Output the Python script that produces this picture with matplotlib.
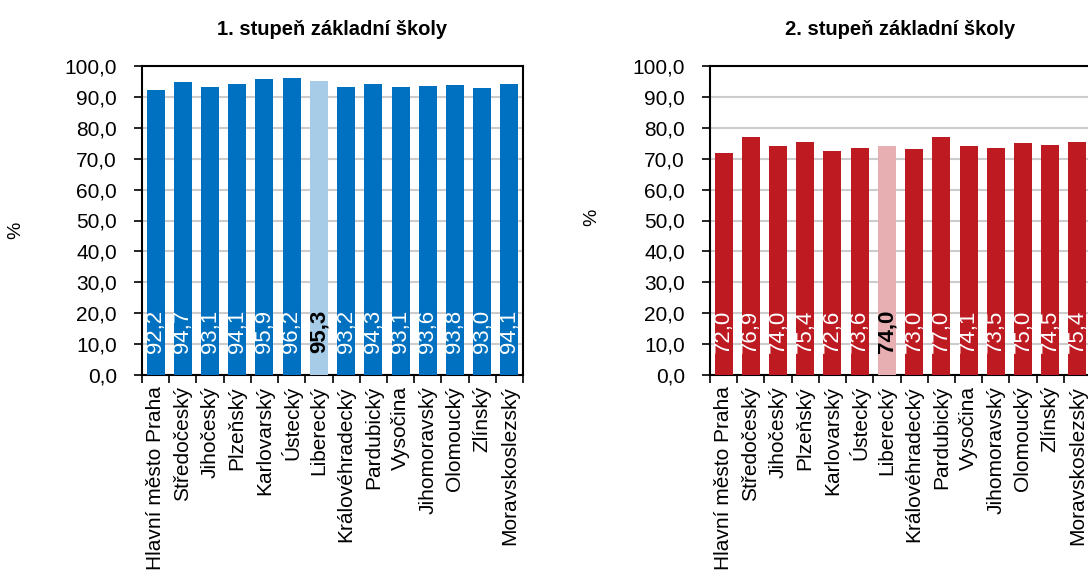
import matplotlib.pyplot as plt
import numpy as np

plt.rcParams['font.family'] = ['Liberation Sans', 'DejaVu Sans']

regions = ['Hlavní město Praha', 'Středočeský', 'Jihočeský', 'Plzeňský', 'Karlovarský',
           'Ústecký', 'Liberecký', 'Královéhradecký', 'Pardubický', 'Vysočina',
           'Jihomoravský', 'Olomoucký', 'Zlínský', 'Moravskoslezský']
stupen1 = [92.2, 94.7, 93.1, 94.1, 95.9, 96.2, 95.3, 93.2, 94.3, 93.1, 93.6, 93.8, 93.0, 94.1]
stupen2 = [72.0, 76.9, 74.0, 75.4, 72.6, 73.6, 74.0, 73.0, 77.0, 74.1, 73.5, 75.0, 74.5, 75.4]
titles = ['1. stupeň základní školy', '2. stupeň základní školy']
highlight = 'Liberecký'

fig = plt.figure(figsize=(10.88, 5.73), dpi=100)
W, H = 1088, 573
label_font = ['Liberation Sans Narrow', 'Liberation Sans', 'DejaVu Sans']

def fmt(v):
    return ('%.1f' % v).replace('.', ',')

def draw(ax, vals, col, col_hi, title, pct_x, pct_y):
    x = np.arange(len(regions))
    colors = [col_hi if r == highlight else col for r in regions]
    ax.bar(x, vals, width=0.66, color=colors, zorder=3)
    ax.set_xlim(-0.5, len(regions) - 0.5)
    ax.set_ylim(0, 100)
    ax.set_yticks(np.arange(0, 101, 10))
    ax.set_yticklabels([fmt(v) for v in np.arange(0, 101, 10)], fontsize=15)
    ax.yaxis.grid(True, color='#cccccc', linewidth=1.5, zorder=0)
    ax.set_xticks(x)
    ax.set_xticklabels(regions, rotation=90, fontsize=15)
    ax.tick_params(axis='x', length=0, pad=8)
    ax.set_xticks(np.arange(-0.5, len(regions)), minor=True)
    ax.tick_params(axis='x', which='minor', length=6, width=1.2, direction='out')
    ax.tick_params(axis='y', length=6, width=1.2, direction='out', pad=12)
    for s in ax.spines.values():
        s.set_linewidth(1.5)
    for i, (r, v) in enumerate(zip(regions, vals)):
        if r == highlight:
            ax.text(i, 7.2, fmt(v), rotation=90, ha='center', va='bottom', family=label_font,
                    fontsize=16, fontweight='bold', color='black', zorder=4)
        else:
            ax.text(i, 7.2, fmt(v), rotation=90, ha='center', va='bottom', family=label_font,
                    fontsize=16, color='white', zorder=4)
    ax.set_title(title, fontsize=14.5, fontweight='bold', pad=22)
    fig.text(pct_x / W, 1 - pct_y / H, '%', rotation=90, fontsize=14,
             ha='center', va='center')

ax1 = fig.add_axes([142 / W, 1 - 375 / H, 381 / W, 309 / H])
ax2 = fig.add_axes([710 / W, 1 - 375 / H, 381 / W, 309 / H])
draw(ax1, stupen1, '#0070c0', '#a6cce8', titles[0], 16, 230)
draw(ax2, stupen2, '#be1a22', '#e8afb3', titles[1], 592, 217)

plt.savefig('out.png', dpi=100)
